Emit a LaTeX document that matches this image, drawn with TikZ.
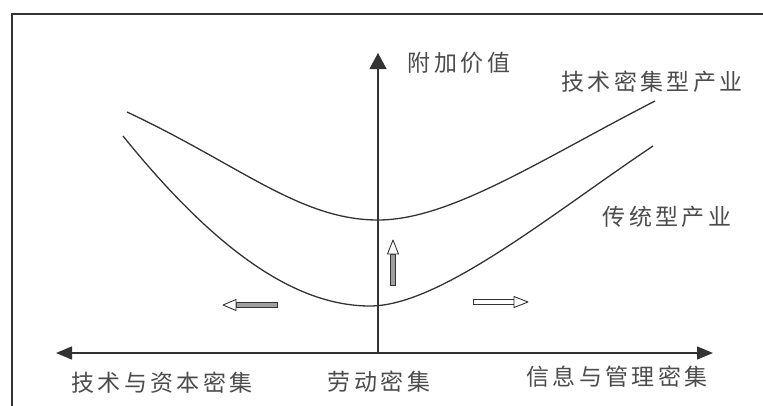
\documentclass[tikz,border=0pt]{standalone}
\usepackage{fontspec}
\newfontfamily\cjk[LetterSpace=15]{Noto Sans CJK SC}
\usetikzlibrary{arrows.meta}
\definecolor{ink}{gray}{0.2}
\definecolor{txt}{gray}{0.3}
\begin{document}
\begin{tikzpicture}[x=1pt,y=-1pt,
  lbl/.style={font=\cjk\fontsize{23}{23}\selectfont, text=txt, inner sep=0pt},
  curve/.style={draw=ink, line width=1.3pt},
  axis/.style={draw=ink, line width=1.4pt},
  shaftg/.style={draw=ink, fill=gray!75, line width=0.9pt},
  shaftw/.style={draw=ink, fill=white, line width=0.9pt},
  headw/.style={draw=ink, fill=white, line width=0.9pt, line join=round}]
\useasboundingbox (0,0) rectangle (763,405);
% frame
\draw[draw=ink, line width=2pt] (12,410) -- (12,14) -- (770,14);
% axes
\coordinate (O) at (378,353);
\coordinate (L) at (56,353);
\coordinate (R) at (713,353);
\coordinate (T) at (378,53);
\draw[axis, -{Triangle[length=16pt,width=13pt]}] (O) -- (L);
\draw[axis, -{Triangle[length=16pt,width=13pt]}] (O) -- (R);
\draw[draw=ink, line width=1.1pt, -{Triangle[length=16pt,width=17pt]}] (O) -- (T);
% curves
\draw[curve] (127,112) .. controls (240,165) and (300,220) .. (378,220)
  .. controls (450,220) and (540,160) .. (655,101);
\draw[curve] (123,136) .. controls (215,250) and (295,306) .. (370,306)
  .. controls (440,306) and (550,215) .. (653,146);
% block arrows
% left
\draw[shaftg] (277,302.5) rectangle (236,307.5);
\draw[headw] (236,299.5) -- (223,305) -- (236,310.5) -- cycle;
% up
\draw[shaftg] (390.5,285) rectangle (395.5,254);
\draw[headw] (387.5,254) -- (393,240) -- (398.5,254) -- cycle;
% right
\draw[shaftw] (473,299.5) rectangle (514,304.5);
\draw[headw] (514,296.5) -- (528,302) -- (514,307.5) -- cycle;
% labels
\node[lbl] (yl) at (459,63) {附加价值};
\node[lbl] (c1) at (652,82) {技术密集型产业};
\node[lbl] (c2) at (667,217) {传统型产业};
\node[lbl] (xl) at (162,383) {技术与资本密集};
\node[lbl] (xm) at (379,382) {劳动密集};
\node[lbl] (xr) at (617,377) {信息与管理密集};
\end{tikzpicture}
\end{document}
